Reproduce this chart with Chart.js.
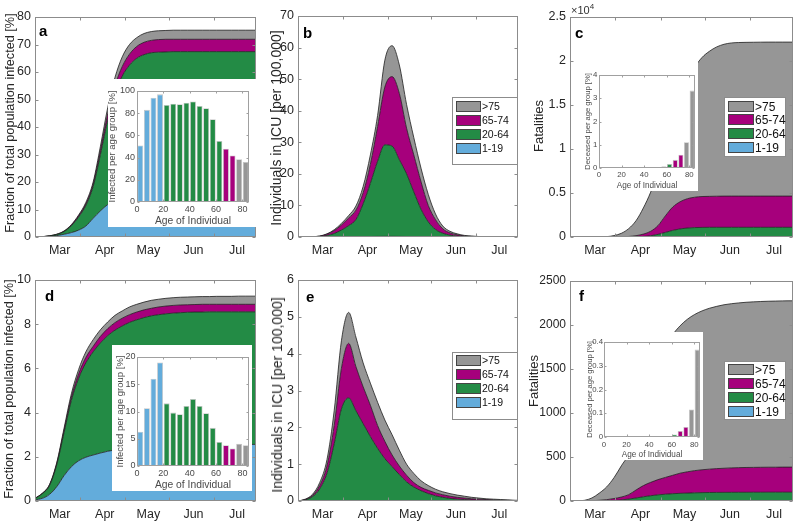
<!DOCTYPE html>
<html>
<head>
<meta charset="utf-8">
<script src="https://cdn.jsdelivr.net/npm/chart.js@4/dist/chart.umd.min.js"></script>
<style>
  html, body { margin:0; padding:0; background:#fff; }
  body { width:793px; height:522px; overflow:hidden; position:relative; font-family:'Liberation Sans', Arial, Helvetica, sans-serif; }
  canvas { position:absolute; }
  .panel-letter { position:absolute; font-weight:bold; font-size:15px; line-height:15px; color:#000; }
  .leg { position:absolute; background:#fff; border:1px solid #8c8c8c; box-sizing:border-box; }
  .leg .row { position:absolute; display:flex; align-items:center; }
  .leg .sw { box-sizing:border-box; border:1px solid #444; }
  .leg .tx { color:#111; line-height:1; white-space:nowrap; }
  .exp { position:absolute; font-size:11px; color:#333; }
  .ytitle { position:absolute; white-space:nowrap; color:#262626; line-height:1; transform:translate(-50%,-50%) rotate(-90deg); }
</style>
</head>
<body>
<script>
// ---------------- DATA ----------------
// time axis: days relative to 1 March
const days = [-17,-12,-7,-2,3,8,13,18,23,28,33,38,43,48,53,58,63,68,73,78,83,88,93,98,103,108,113,118,123,128,133,135];
const monthTicks = [0,31,61,92,122];
const monthLabels = ['Mar','Apr','May','Jun','Jul'];
const monthMarks = [14,45,75,106];

const groupLabels = ['1-19','20-64','65-74','>75'];
const groupColors = ['rgb(99,172,219)','rgb(35,139,69)','rgb(166,0,124)','rgb(150,150,150)'];

// Panel a: fraction infected [%] — top boundary of each stacked age band
const a_1_19  = [0,0.05,0.2,0.5,1.0,1.6,2.5,4.0,6.8,9.5,11.8,13.3,14.3,15.0,15.5,15.8,16.0,16.1,16.1,16.1,16.1,16.1,16.1,16.1,16.1,16.1,16.1,16.1,16.1,16.1,16.1,16.1];
const a_20_64 = [0,0.1,0.4,0.9,2.0,4.1,7.3,11.5,18.4,30,42.5,52,58.5,62.5,65,66.3,67,67.2,67.3,67.4,67.4,67.4,67.4,67.4,67.4,67.4,67.4,67.4,67.4,67.4,67.4,67.4];
const a_65_74 = [0,0.1,0.4,1.0,2.1,4.3,7.7,12,19.2,31.5,44.8,55,62,66.5,69.3,70.8,71.5,71.8,71.9,71.9,71.9,71.9,71.9,71.9,71.9,71.9,71.9,71.9,71.9,71.9,71.9,71.9];
const a_75p   = [0,0.1,0.45,1.0,2.2,4.5,8,12.6,20,33,47,58,65.5,70,72.5,74,74.7,75,75.1,75.2,75.2,75.2,75.2,75.2,75.2,75.2,75.2,75.2,75.2,75.2,75.2,75.2];

// Panel b: individuals in ICU [per 100,000]
const b_1_19  = [0,0,0,0,0.01,0.02,0.04,0.06,0.08,0.12,0.15,0.18,0.2,0.2,0.18,0.15,0.12,0.08,0.05,0.03,0.02,0.01,0.01,0,0,0,0,0,0,0,0,0];
const b_20_64 = [0,0,0.05,0.15,0.5,1.1,2.2,3.6,5.5,10.5,17,24,29.2,28.8,24.5,20,14.3,8.8,4.8,2.4,1.2,0.6,0.3,0.15,0.08,0.04,0.02,0.01,0,0,0,0];
const b_65_74 = [0,0,0.08,0.28,0.9,2.0,3.8,6.0,8.5,14,23,35,47.5,50.8,45.5,34.5,26,17.5,10,5.5,2.6,1.3,0.7,0.35,0.2,0.1,0.07,0.04,0.02,0.01,0.01,0.01];
const b_75p   = [0,0,0.1,0.3,1.0,2.3,4.3,6.8,9.8,16,26,38.5,56,60.6,54.5,42,31.5,21.8,13.5,7.3,3.5,1.8,1.0,0.5,0.3,0.15,0.1,0.05,0.03,0.02,0.01,0.01];

// Panel c: fatalities
const c_1_19  = [0,0,0,0,0,0,0,0,1,2,3,5,7,9,10,11,12,12,12,12,12,12,12,12,12,12,12,12,12,12,12,12];
const c_20_64 = [0,0,0,0,0,1,2,5,10,20,60,140,300,520,750,920,1020,1070,1090,1100,1100,1100,1100,1100,1100,1100,1100,1100,1100,1100,1100,1100];
const c_65_74 = [0,0,0,0,2,5,12,25,60,150,330,650,1300,2400,3400,4000,4350,4520,4600,4620,4635,4645,4650,4650,4650,4650,4650,4650,4650,4650,4650,4650];
const c_75p   = [0,0,0,2,10,40,160,420,950,1850,3300,5100,7400,10100,13000,15600,17800,19300,20400,21100,21600,21900,22050,22100,22120,22130,22140,22150,22150,22150,22150,22150];

// Panel d: fraction infected [%]
const d_1_19  = [0.05,0.12,0.3,0.65,1.15,1.55,1.82,1.98,2.08,2.17,2.25,2.31,2.37,2.42,2.46,2.49,2.51,2.53,2.55,2.56,2.56,2.56,2.56,2.56,2.56,2.56,2.56,2.56,2.56,2.56,2.56,2.56];
const d_20_64 = [0.11,0.33,0.7,1.65,3.1,4.55,5.55,6.25,6.75,7.15,7.48,7.73,7.92,8.08,8.2,8.3,8.38,8.43,8.47,8.5,8.52,8.54,8.55,8.55,8.56,8.56,8.56,8.56,8.56,8.56,8.56,8.56];
const d_65_74 = [0.12,0.34,0.73,1.7,3.2,4.7,5.75,6.5,7.0,7.45,7.8,8.07,8.27,8.43,8.55,8.65,8.72,8.78,8.82,8.85,8.87,8.88,8.89,8.9,8.9,8.9,8.9,8.9,8.9,8.9,8.9,8.9];
const d_75p   = [0.12,0.35,0.75,1.75,3.3,4.85,5.95,6.75,7.3,7.75,8.1,8.4,8.6,8.78,8.9,9.0,9.08,9.13,9.17,9.2,9.22,9.23,9.24,9.25,9.25,9.26,9.26,9.26,9.27,9.27,9.27,9.27];

// Panel e: individuals in ICU [per 100,000]
const e_1_19  = [0,0,0,0,0,0,0.01,0.01,0.01,0.01,0,0,0,0,0,0,0,0,0,0,0,0,0,0,0,0,0,0,0,0,0,0];
const e_20_64 = [0,0.03,0.12,0.33,0.75,1.55,2.5,2.8,2.45,2.1,1.75,1.43,1.15,0.93,0.72,0.52,0.38,0.28,0.2,0.14,0.1,0.07,0.05,0.04,0.03,0.02,0.02,0.01,0.01,0.01,0.01,0.01];
const e_65_74 = [0,0.04,0.15,0.42,0.95,2.05,3.6,4.28,3.65,3.1,2.6,2.05,1.62,1.25,0.95,0.7,0.5,0.37,0.29,0.22,0.17,0.13,0.1,0.08,0.06,0.05,0.04,0.03,0.02,0.02,0.01,0.01];
const e_75p   = [0,0.05,0.18,0.5,1.12,2.45,4.35,5.12,4.45,3.75,3.2,2.68,2.2,1.8,1.38,1.0,0.75,0.55,0.42,0.32,0.25,0.2,0.16,0.13,0.1,0.08,0.06,0.05,0.04,0.03,0.02,0.02];

// Panel f: fatalities
const f_1_19  = [0,0,0,0,0,0,0,0,0.5,1,1.5,2,2.5,3,3,3,3,3,3,3,3,3,3,3,3,3,3,3,3,3,3,3];
const f_20_64 = [0,0,0,0.5,1,3,6,12,22,34,48,60,70,77,83,87,90,93,95,96.5,97.5,98,98.5,99,99,99.5,99.5,100,100,100,100,100];
const f_65_74 = [0,0,1,3,8,15,28,45,72,125,175,212,243,268,292,316,332,345,355,362,368,372,376,379,381,382,383,384,384,385,385,385];
const f_75p   = [0,1,8,35,90,160,265,400,535,780,1060,1340,1570,1750,1890,1990,2065,2120,2160,2190,2212,2230,2242,2251,2258,2263,2267,2270,2272,2274,2275,2275];

// y tick values
const aTicks = [0,10,20,30,40,50,60,70,80];
const bTicks = [0,10,20,30,40,50,60,70];
const cTicks = [0,5000,10000,15000,20000,25000];
const dTicks = [0,2,4,6,8,10];
const eTicks = [0,1,2,3,4,5,6];
const fTicks = [0,500,1000,1500,2000,2500];

// Insets: age bins (5 years) and per-age-group values [%]
const ageStart = [0,5,10,15,20,25,30,35,40,45,50,55,60,65,70,75,80];
const barGroup = [0,0,0,0,1,1,1,1,1,1,1,1,1,2,2,3,3];
const infectedA = [51,83,94,97,87.5,88.5,88,89.5,90.5,86.5,84.5,74.5,55,48,42,38.5,36];
const infectedD = [6.3,10.6,16,19,11.5,9.8,9.5,11,12.3,11,9.7,7,4.4,3.8,3.2,4.1,3.8];
const deceasedC = [0.002,0.002,0.003,0.004,0.005,0.006,0.008,0.01,0.013,0.02,0.04,0.07,0.17,0.35,0.57,1.11,3.33];
const deceasedF = [0,0,0.0001,0.0002,0.0003,0.0004,0.0006,0.0008,0.001,0.0015,0.002,0.003,0.011,0.025,0.042,0.116,0.368];
const insetXTicks = [0,20,40,60,80];

// ---------------- RENDERING ----------------
Chart.defaults.font.family = "'Liberation Sans', Arial, Helvetica, sans-serif";
Chart.defaults.color = '#262626';
Chart.defaults.animation = false;

const mbox = {
  id: 'mbox',
  defaults: { color: '#8c8c8c', tick: 3, xMarks: null },
  afterDraw(chart, args, opts) {
    const { ctx, chartArea: ca, scales } = chart;
    ctx.save();
    ctx.strokeStyle = opts.color;
    ctx.lineWidth = 1;
    const L = Math.round(ca.left) + 0.5, R = Math.round(ca.right) - 0.5;
    const T = Math.round(ca.top) + 0.5, B = Math.round(ca.bottom) - 0.5;
    ctx.strokeRect(L, T, R - L, B - T);
    const tl = opts.tick;
    ctx.beginPath();
    const xs = opts.xMarks || scales.x.ticks.map(t => t.value);
    xs.forEach(v => {
      const px = Math.round(scales.x.getPixelForValue(v)) + 0.5;
      ctx.moveTo(px, B); ctx.lineTo(px, B - tl);
      ctx.moveTo(px, T); ctx.lineTo(px, T + tl);
    });
    scales.y.ticks.forEach(t => {
      const py = Math.round(scales.y.getPixelForValue(t.value)) + 0.5;
      ctx.moveTo(L, py); ctx.lineTo(L + tl, py);
      ctx.moveTo(R, py); ctx.lineTo(R - tl, py);
    });
    ctx.stroke();
    ctx.restore();
  }
};

function makeCanvas(left, top, w, h, bg) {
  const cv = document.createElement('canvas');
  cv.width = w; cv.height = h;
  cv.style.left = left + 'px'; cv.style.top = top + 'px';
  cv.style.width = w + 'px'; cv.style.height = h + 'px';
  if (bg) cv.style.background = bg;
  document.body.appendChild(cv);
  return cv;
}

function yTitle(text, cx, cy, size) {
  const d = document.createElement('div');
  d.className = 'ytitle';
  d.style.left = cx + 'px'; d.style.top = cy + 'px'; d.style.fontSize = size + 'px';
  d.textContent = text;
  document.body.appendChild(d);
}

function areaChart(p) {
  const cv = makeCanvas(p.left, p.top, p.w, p.h);
  const bands = p.series;
  const ch = new Chart(cv, {
    type: 'line',
    data: {
      datasets: bands.map((arr, i) => ({
        label: groupLabels[i],
        data: days.map((d, k) => ({ x: d, y: arr[k] })),
        fill: i === 0 ? 'origin' : '-1',
        backgroundColor: groupColors[i],
        borderColor: '#1e1e1e',
        borderWidth: 0.8,
        pointRadius: 0,
        cubicInterpolationMode: 'monotone'
      }))
    },
    options: {
      responsive: false, animation: false, devicePixelRatio: 1,
      layout: { padding: { top: p.padTop, right: p.padRight, left: 0, bottom: 0 } },
      plugins: { legend: { display: false }, tooltip: { enabled: false }, mbox: { xMarks: monthMarks, tick: 3 } },
      scales: {
        x: {
          type: 'linear', min: -17, max: 135,
          grid: { display: false, drawTicks: false }, border: { display: false },
          afterBuildTicks: s => { s.ticks = monthTicks.map(v => ({ value: v })); },
          afterFit: s => { s.height = p.xH; },
          ticks: { autoSkip: false, maxRotation: 0, padding: 6, font: { size: 12.5 }, color: '#262626',
                   callback: (v, i) => monthLabels[i] }
        },
        y: {
          type: 'linear', min: 0, max: p.yTicks[p.yTicks.length - 1],
          grid: { display: false, drawTicks: false }, border: { display: false },
          afterBuildTicks: s => { s.ticks = p.yTicks.map(v => ({ value: v })); },
          afterFit: s => { s.width = p.yW; },
          ticks: { padding: 4, font: { size: p.yTickSize || 12.5 }, color: '#262626', callback: p.yFmt || (v => String(v)) }
        }
      }
    },
    plugins: [mbox]
  });
  yTitle(p.yTitle, p.titleX, p.titleY, p.titleSize);
  return ch;
}

function barInset(p) {
  const cv = makeCanvas(p.left, p.top, p.w, p.h, '#fff');
  return new Chart(cv, {
    type: 'bar',
    data: {
      datasets: [{
        data: ageStart.map((a, k) => ({ x: a + 2.5, y: p.values[k] })),
        backgroundColor: barGroup.map(g => groupColors[g]),
        borderColor: '#c4c4c4', borderWidth: 0.8,
        barPercentage: 0.9, categoryPercentage: 1
      }]
    },
    options: {
      responsive: false, animation: false, devicePixelRatio: 1,
      layout: { padding: { top: p.padTop, right: p.padRight, left: 0, bottom: 0 } },
      plugins: { legend: { display: false }, tooltip: { enabled: false }, mbox: { tick: 2, color: '#a0a0a0' } },
      scales: {
        x: {
          type: 'linear', min: 0, max: 85, offset: false,
          grid: { display: false, drawTicks: false }, border: { display: false },
          afterBuildTicks: s => { s.ticks = insetXTicks.map(v => ({ value: v })); },
          afterFit: s => { s.height = p.xH; },
          ticks: { autoSkip: false, maxRotation: 0, padding: p.xTickPad, font: { size: p.tickSize }, color: '#4a4a4a' },
          title: { display: true, text: 'Age of Individual', color: '#4a4a4a',
                   font: { size: p.xTitleSize, lineHeight: p.xTitleLH }, padding: { top: 0, bottom: p.xTitlePad } }
        },
        y: {
          type: 'linear', min: 0, max: p.yTicks[p.yTicks.length - 1],
          grid: { display: false, drawTicks: false }, border: { display: false },
          afterBuildTicks: s => { s.ticks = p.yTicks.map(v => ({ value: v })); },
          afterFit: s => { s.width = p.yW; },
          ticks: { padding: p.yTickPad, font: { size: p.tickSize }, color: '#4a4a4a', callback: p.yFmt || (v => String(v)) },
          title: { display: true, text: p.yTitle, color: '#4a4a4a',
                   font: { size: p.yTitleSize, lineHeight: p.yTitleLH }, padding: { top: p.yTitlePad, bottom: 0 } }
        }
      }
    },
    plugins: [mbox]
  });
}

function legend(p) {
  const box = document.createElement('div');
  box.className = 'leg';
  box.style.left = p.left + 'px'; box.style.top = p.top + 'px';
  box.style.width = p.w + 'px'; box.style.height = p.h + 'px';
  [3, 2, 1, 0].forEach((g, r) => {
    const row = document.createElement('div');
    row.className = 'row';
    row.style.left = p.swLeft + 'px'; row.style.top = p.rowTops[r] + 'px'; row.style.height = p.swH + 'px';
    const sw = document.createElement('span');
    sw.className = 'sw';
    sw.style.width = p.swW + 'px'; sw.style.height = p.swH + 'px'; sw.style.background = groupColors[g];
    const tx = document.createElement('span');
    tx.className = 'tx';
    tx.style.fontSize = p.font + 'px'; tx.style.marginLeft = '1px';
    tx.textContent = groupLabels[g];
    row.appendChild(sw); row.appendChild(tx);
    box.appendChild(row);
  });
  document.body.appendChild(box);
}

function letter(t, x, baseline) {
  const d = document.createElement('div');
  d.className = 'panel-letter';
  d.style.left = x + 'px'; d.style.top = (baseline - 12.5) + 'px';
  d.textContent = t;
  document.body.appendChild(d);
}

const fmtE4 = v => v === 0 ? '0' : String(v / 10000);
const fmt1 = v => v === 0 ? '0' : v.toFixed(1);

// Main panels
areaChart({ left: 0, top: 0, w: 262, h: 258, padTop: 17, padRight: 6, yW: 35, xH: 21,
  series: [a_1_19, a_20_64, a_65_74, a_75p], yTicks: aTicks,
  yTitle: 'Fraction of total population infected [%]', titleSize: 12.7, titleX: 9.5, titleY: 123 });
areaChart({ left: 262, top: 0, w: 262, h: 258, padTop: 16, padRight: 6, yW: 36, xH: 21,
  series: [b_1_19, b_20_64, b_65_74, b_75p], yTicks: bTicks,
  yTitle: 'Individuals in ICU [per 100,000]', titleSize: 14, titleX: 275.5, titleY: 127.5 });
areaChart({ left: 524, top: 0, w: 270, h: 258, padTop: 17, padRight: 1, yW: 46, xH: 21,
  series: [c_1_19, c_20_64, c_65_74, c_75p], yTicks: cTicks, yFmt: fmtE4, yTickSize: 12.5,
  yTitle: 'Fatalities', titleSize: 13, titleX: 537.5, titleY: 126 });
areaChart({ left: 0, top: 263, w: 262, h: 258, padTop: 17, padRight: 6, yW: 35, xH: 20,
  series: [d_1_19, d_20_64, d_65_74, d_75p], yTicks: dTicks,
  yTitle: 'Fraction of total population infected [%]', titleSize: 12.7, titleX: 9, titleY: 389 });
areaChart({ left: 262, top: 263, w: 262, h: 258, padTop: 17, padRight: 6, yW: 36, xH: 20,
  series: [e_1_19, e_20_64, e_65_74, e_75p], yTicks: eTicks,
  yTitle: 'Individuals in ICU [per 100,000]', titleSize: 14, titleX: 277, titleY: 395 });
areaChart({ left: 524, top: 263, w: 270, h: 258, padTop: 18, padRight: 1, yW: 46, xH: 20,
  series: [f_1_19, f_20_64, f_65_74, f_75p], yTicks: fTicks, yTickSize: 12,
  yTitle: 'Fatalities', titleSize: 13, titleX: 533, titleY: 381 });

// Insets
barInset({ left: 108, top: 79, w: 150, h: 148, padTop: 12, padRight: 9, yW: 29, xH: 25,
  values: infectedA, yTicks: [0,20,40,60,80,100], yTitle: 'Infected per age group [%]',
  tickSize: 9, xTickPad: 2, yTickPad: 2, xTitleSize: 10.3, xTitleLH: 1, xTitlePad: 0.2,
  yTitleSize: 9.5, yTitleLH: 1, yTitlePad: 0 });
barInset({ left: 112, top: 345, w: 140, h: 146, padTop: 12, padRight: 3, yW: 25, xH: 25,
  values: infectedD, yTicks: [0,5,10,15,20], yTitle: 'Infected per age group [%]',
  tickSize: 9, xTickPad: 2.6, yTickPad: 1.5, xTitleSize: 10.3, xTitleLH: 1, xTitlePad: 0.4,
  yTitleSize: 9.5, yTitleLH: 1, yTitlePad: 3.7 });
barInset({ left: 585, top: 62, w: 113, h: 129, padTop: 13, padRight: 3, yW: 14, xH: 23,
  values: deceasedC, yTicks: [0,1,2,3,4], yTitle: 'Deceased per age group [%]',
  tickSize: 7.8, xTickPad: 2.5, yTickPad: 1.7, xTitleSize: 8.2, xTitleLH: 1, xTitlePad: 1,
  yTitleSize: 7.6, yTitleLH: 0.8, yTitlePad: 0 });
barInset({ left: 585, top: 332, w: 118, h: 128, padTop: 10, padRight: 3, yW: 19, xH: 23,
  values: deceasedF, yTicks: [0,0.1,0.2,0.3,0.4], yFmt: fmt1, yTitle: 'Deceased per age group [%]',
  tickSize: 7.8, xTickPad: 3.5, yTickPad: 1, xTitleSize: 8.2, xTitleLH: 1, xTitlePad: 1,
  yTitleSize: 7.6, yTitleLH: 1, yTitlePad: 0.75 });

// Legends
legend({ left: 452, top: 97, w: 66, h: 68, swLeft: 3, swW: 25, swH: 11, rowTops: [3,17,31,45], font: 10.5 });
legend({ left: 452, top: 352, w: 66, h: 68, swLeft: 3, swW: 25, swH: 11, rowTops: [2,16,30,44], font: 10.5 });
legend({ left: 724, top: 97, w: 62, h: 60, swLeft: 3, swW: 26, swH: 11, rowTops: [3,16,30,44], font: 12 });
legend({ left: 724, top: 361, w: 62, h: 59, swLeft: 3, swW: 26, swH: 11, rowTops: [2,16,30,44], font: 12 });

// Panel letters
letter('a', 39, 35); letter('b', 303, 37); letter('c', 575, 37);
letter('d', 45, 300); letter('e', 306, 301); letter('f', 579, 300);

// x10^4 exponent for panel c
const ex = document.createElement('div');
ex.className = 'exp';
ex.style.left = '571px'; ex.style.top = '2px';
ex.innerHTML = '&times;10<sup style="font-size:8px">4</sup>';
document.body.appendChild(ex);
</script>
</body>
</html>
